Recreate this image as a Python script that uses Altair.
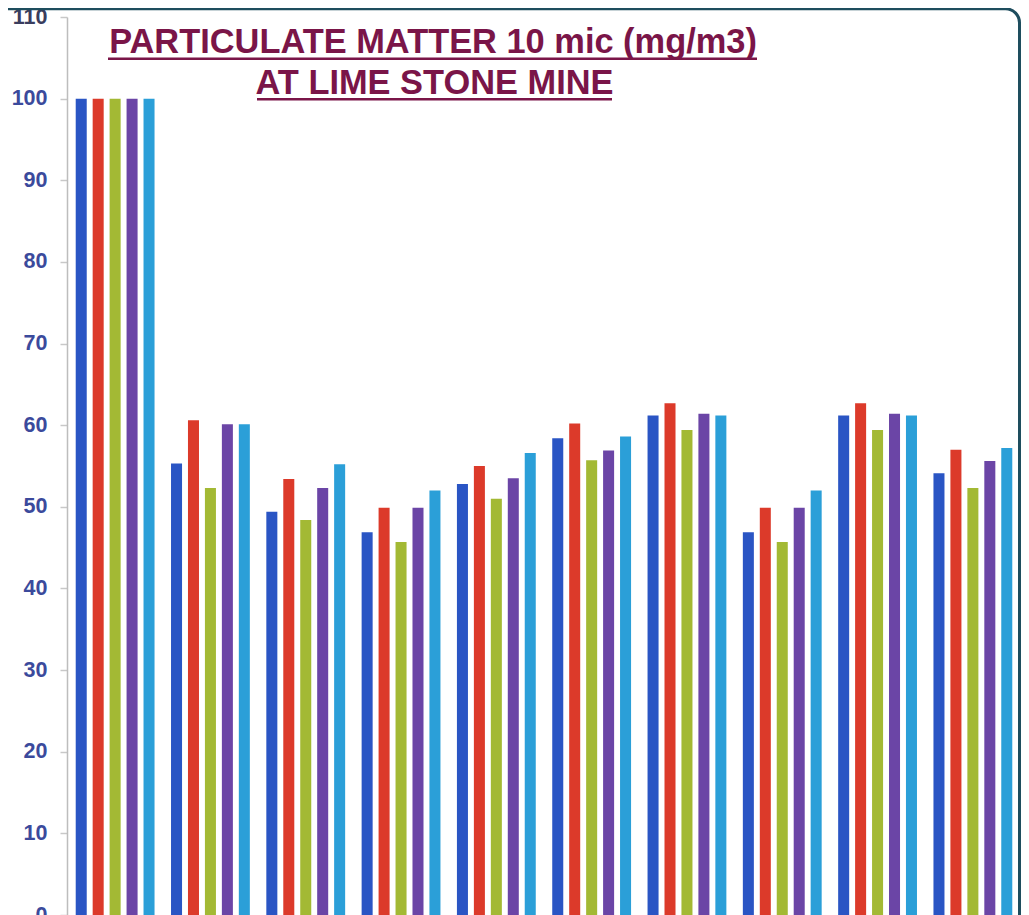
import altair as alt
import pandas as pd

sites = ["Site 1", "Site 2", "Site 3", "Site 4", "Site 5",
         "Site 6", "Site 7", "Site 8", "Site 9", "Site 10"]
series = ["Series 1", "Series 2", "Series 3", "Series 4", "Series 5"]
colors = ["#2A55C4", "#DC3A2A", "#A3B934", "#6B45A6", "#2B9FD8"]

s1 = [100, 55.3, 49.4, 46.9, 52.8, 58.4, 61.2, 46.9, 61.2, 54.1]
s2 = [100, 60.6, 53.4, 49.9, 55.0, 60.2, 62.7, 49.9, 62.7, 57.0]
s3 = [100, 52.3, 48.4, 45.7, 51.0, 55.7, 59.4, 45.7, 59.4, 52.3]
s4 = [100, 60.1, 52.3, 49.9, 53.5, 56.9, 61.4, 49.9, 61.4, 55.6]
s5 = [100, 60.1, 55.2, 52.0, 56.6, 58.6, 61.2, 52.0, 61.2, 57.2]

y_ticks = [0, 10, 20, 30, 40, 50, 60, 70, 80, 90, 100, 110]
title_1 = "PARTICULATE MATTER 10 mic (mg/m3)"
title_2 = "AT LIME STONE MINE"

rows = []
for name, vals in zip(series, [s1, s2, s3, s4, s5]):
    for site, v in zip(sites, vals):
        rows.append({"site": site, "series": name, "value": v})
df = pd.DataFrame(rows)

FONT = "Liberation Sans"
TITLE_COLOR = "#7A1548"

bars = alt.Chart(df).mark_bar(clip=False).encode(
    x=alt.X("site:N", sort=sites, axis=None,
            scale=alt.Scale(paddingInner=0.1, paddingOuter=0.055)),
    xOffset=alt.XOffset("series:N", sort=series,
                        scale=alt.Scale(paddingInner=0.35, paddingOuter=0.205)),
    y=alt.Y("value:Q",
            scale=alt.Scale(domain=[0, 110], nice=False),
            axis=alt.Axis(values=y_ticks, title=None, grid=False,
                          domainColor="#BDBDBD", domainWidth=1.5,
                          tickColor="#C8C8C8", tickSize=7, tickWidth=1.5,
                          labelPadding=13, labelFontSize=21.5,
                          labelFontWeight="bold", labelFont=FONT,
                          labelColor=alt.condition("datum.value == 110",
                                                   alt.value("#3A3D5E"),
                                                   alt.value("#3B4A9C")),
                          labelFlush=False,
                          labelOverlap=False)),
    color=alt.Color("series:N", sort=series,
                    scale=alt.Scale(domain=series, range=colors), legend=None),
)

t1 = alt.Chart(pd.DataFrame({"t": [title_1]})).mark_text(
    font=FONT, fontSize=34.4, fontWeight="bold", color=TITLE_COLOR,
    align="center", baseline="alphabetic"
).encode(text="t:N", x=alt.value(366), y=alt.value(36))

t2 = alt.Chart(pd.DataFrame({"t": [title_2]})).mark_text(
    font=FONT, fontSize=34.4, fontWeight="bold", color=TITLE_COLOR,
    align="center", baseline="alphabetic"
).encode(text="t:N", x=alt.value(367.5), y=alt.value(76.5))

u1 = alt.Chart(pd.DataFrame({"k": [1]})).mark_rule(
    color=TITLE_COLOR, strokeWidth=2.5
).encode(x=alt.value(41), x2=alt.value(690), y=alt.value(41.8))

u2 = alt.Chart(pd.DataFrame({"k": [1]})).mark_rule(
    color=TITLE_COLOR, strokeWidth=2.5
).encode(x=alt.value(190), x2=alt.value(545), y=alt.value(82.3))

border = alt.Chart(pd.DataFrame({"k": [1]})).mark_rect(
    fill="transparent", stroke="#1E4D5E", strokeWidth=3,
    cornerRadius=14, clip=False
).encode(x=alt.value(-80), x2=alt.value(952.5), y=alt.value(-8.2), y2=alt.value(1000))

chart = alt.layer(bars, border, u1, u2, t1, t2).properties(
    width=954, height=898,
    autosize=alt.AutoSizeParams(type="none"),
    padding={"left": 59, "top": 9, "right": 0, "bottom": 0},
    background="white",
).configure_view(stroke=None)

chart.save("out.html", embed_options={"renderer": "svg", "actions": False})
